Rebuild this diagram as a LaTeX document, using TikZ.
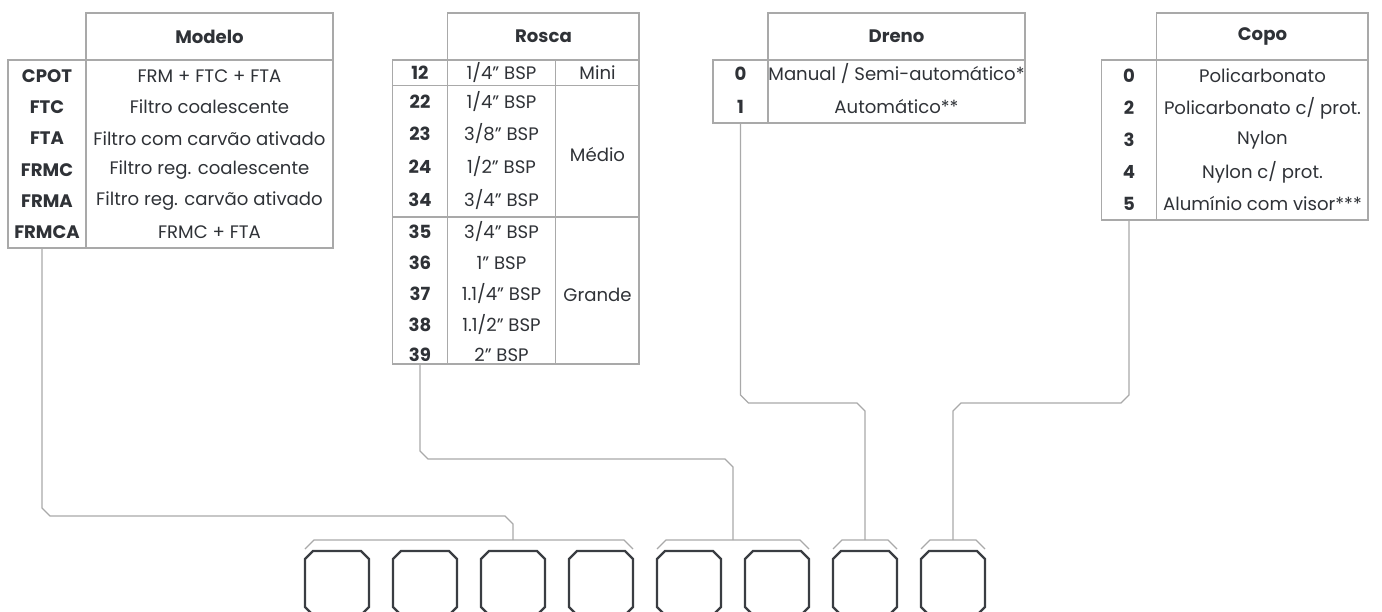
\documentclass[tikz,border=0pt]{standalone}
\usepackage{fontspec}
\setmainfont{Poppins}
\usetikzlibrary{calc}
\definecolor{cline}{HTML}{A9A9A9}
\definecolor{ctext}{HTML}{2F3237}
\definecolor{cbox}{HTML}{3A3D42}
\tikzset{
  every picture/.style={font=\fontsize{10.3}{12}\selectfont, line width=0.7pt},
  grid/.style={draw=cline, line width=0.75pt},
  wire/.style={draw=cline, line width=0.65pt},
  code/.style={font=\fontsize{10.3}{12}\selectfont\bfseries, text=ctext, inner sep=1pt},
  desc/.style={text=ctext, inner sep=1pt},
  head/.style={font=\fontsize{10.3}{12}\selectfont\bfseries, text=ctext},
  slot/.style={rectangle, minimum width=1.28cm, minimum height=1.28cm, inner sep=0pt, outer sep=0pt},
  slotline/.style={draw=cbox, line width=1.4pt, line join=miter},
}

\begin{document}
\begin{tikzpicture}[x=1cm, y=1cm]
  \useasboundingbox (0,0) rectangle (27.64,-12.24);

  % Modelo
  \draw[grid] (1.72,-0.26) rectangle (6.66,-1.20);
  \draw[grid] (0.16,-1.20) rectangle (6.66,-4.96);
  \draw[grid] (1.72,-1.20) -- (1.72,-4.96);
  \node[head] (modelo) at (4.19,-0.73) {Modelo};
  \foreach \c/\d [count=\i] in {CPOT/FRM + FTC + FTA, FTC/Filtro coalescente, FTA/Filtro com carvão ativado,
      FRMC/Filtro reg. coalescente, FRMA/Filtro reg. carvão ativado, FRMCA/FRMC + FTA}{
    \node[code] (mod-c\i) at (0.94,{-1.20-0.6267*(\i-0.5)}) {\c};
    \node[desc] (mod-d\i) at (4.19,{-1.20-0.6267*(\i-0.5)}) {\d};
  }
  \coordinate (modelo-out) at (0.84,-4.96);

  % Rosca
  \draw[grid] (8.955,-0.26) rectangle (12.78,-1.20);
  \draw[grid] (7.855,-1.20) rectangle (12.78,-7.28);
  \draw[grid] (8.955,-1.20) -- (8.955,-7.28);
  \draw[grid] (11.115,-1.20) -- (11.115,-7.28);
  \draw[grid] (7.855,-1.715) -- (12.78,-1.715);
  \draw[grid] (7.855,-4.34) -- (12.78,-4.34);
  \node[head] (rosca) at (10.87,-0.73) {Rosca};
  \foreach \c/\d/\y [count=\i] in {12/{1/4" BSP}/-1.46, 22/{1/4" BSP}/-2.03, 23/{3/8" BSP}/-2.67,
      24/{1/2" BSP}/-3.33, 34/{3/4" BSP}/-3.99, 35/{3/4" BSP}/-4.63, 36/{1" BSP}/-5.26,
      37/{1.1/4" BSP}/-5.88, 38/{1.1/2" BSP}/-6.50, 39/{2" BSP}/-7.09}{
    \node[code] (ros-c\i) at (8.40,\y) {\c};
    \node[desc] (ros-d\i) at (10.03,\y) {\d};
  }
  \node[desc] (mini) at (11.95,-1.46) {Mini};
  \node[desc] (medio) at (11.95,-3.10) {Médio};
  \node[desc] (grande) at (11.95,-5.90) {Grande};
  \coordinate (rosca-out) at (8.40,-7.28);

  % Dreno
  \draw[grid] (15.36,-0.26) rectangle (20.50,-1.20);
  \draw[grid] (14.26,-1.20) rectangle (20.50,-2.46);
  \draw[grid] (15.36,-1.20) -- (15.36,-2.46);
  \node[head] (dreno) at (17.93,-0.73) {Dreno};
  \node[code] (dre-c1) at (14.81,-1.48) {0};
  \node[desc] (dre-d1) at (17.93,-1.48) {Manual / Semi-automático*};
  \node[code] (dre-c2) at (14.81,-2.14) {1};
  \node[desc] (dre-d2) at (17.93,-2.14) {Automático**};
  \coordinate (dreno-out) at (14.81,-2.46);

  % Copo
  \draw[grid] (23.134,-0.26) rectangle (27.36,-1.20);
  \draw[grid] (22.034,-1.20) rectangle (27.36,-4.40);
  \draw[grid] (23.134,-1.20) -- (23.134,-4.40);
  \node[head] (copo) at (25.25,-0.73) {Copo};
  \foreach \c/\d [count=\i] in {0/Policarbonato, 2/{Policarbonato c/ prot.}, 3/Nylon,
      4/{Nylon c/ prot.}, 5/Alumínio com visor***}{
    \node[code] (cop-c\i) at (22.58,{-1.20-0.64*(\i-0.5)}) {\c};
    \node[desc] (cop-d\i) at (25.25,{-1.20-0.64*(\i-0.5)}) {\d};
  }
  \coordinate (copo-out) at (22.58,-4.40);

  % code slots
  \foreach \i in {1,...,8}{
    \node[slot] (b\i) at ({6.74+1.76*(\i-1)},-11.66) {};
    \draw[slotline] ($(b\i.north west)+(0.16,0)$) -- ($(b\i.north east)+(-0.16,0)$)
      -- ($(b\i.north east)+(0,-0.16)$) -- ($(b\i.south east)+(0,0.16)$)
      -- ($(b\i.south east)+(-0.16,0)$) -- ($(b\i.south west)+(0.16,0)$)
      -- ($(b\i.south west)+(0,0.16)$) -- ($(b\i.north west)+(0,-0.16)$) -- cycle;
  }
  \foreach \a/\b in {1/4, 5/6, 7/7, 8/8}
    \draw[wire] ($(b\a.north west)+(0,0.04)$) -- ++(0.18,0.18)
      -- ($(b\b.north east)+(-0.18,0.22)$) -- ++(0.18,-0.18);
  \coordinate (rosca-in) at ($(b5.north)!0.5!(b6.north)$);

  % connectors
  \draw[wire] (modelo-out) -- ++(0,-5.20) -- ++(0.16,-0.16)
    -- ($(b3.north)+(-0.16,0.70)$) -- ++(0.16,-0.16) -- ($(b3.north)+(0,0.22)$);
  \draw[wire] (rosca-out) -- ++(0,-1.74) -- ++(0.16,-0.16)
    -- ($(rosca-in)+(-0.16,1.84)$) -- ++(0.16,-0.16) -- ($(rosca-in)+(0,0.22)$);
  \draw[wire] (dreno-out) -- ++(0,-5.44) -- ++(0.16,-0.16)
    -- ($(b7.north)+(-0.16,2.96)$) -- ++(0.16,-0.16) -- ($(b7.north)+(0,0.22)$);
  \draw[wire] (copo-out) -- ++(0,-3.50) -- ++(-0.16,-0.16)
    -- ($(b8.north)+(0.16,2.96)$) -- ++(-0.16,-0.16) -- ($(b8.north)+(0,0.22)$);
\end{tikzpicture}
\end{document}
